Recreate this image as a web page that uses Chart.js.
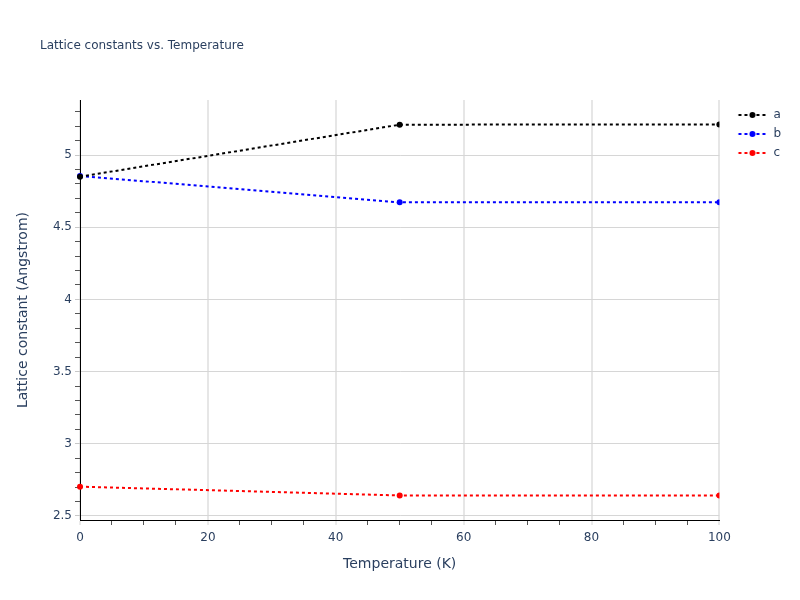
<!DOCTYPE html>
<html>
<head>
<meta charset="utf-8">
<script src="https://cdn.jsdelivr.net/npm/chart.js@4/dist/chart.umd.min.js"></script>
<style>
  body { margin: 0; background: #fff; }
  #wrap { width: 800px; height: 600px; }
</style>
</head>
<body>
<div id="wrap"><canvas id="lattice" width="800" height="600"></canvas></div>
<script>
// values
const temperature = [0, 50, 100];
const latticeA = [4.85, 5.21, 5.212];
const latticeB = [4.855, 4.672, 4.672];
const latticeC = [2.703, 2.642, 2.642];
const seriesNames = ['a', 'b', 'c'];
const seriesColors = ['#000000', '#0000ff', '#ff0000'];
const xTickLabels = [0, 20, 40, 60, 80, 100];
const yTickLabels = [2.5, 3, 3.5, 4, 4.5, 5];

const textColor = '#2a3f5f';
const fontFamily = "'DejaVu Sans', Verdana, sans-serif";
Chart.defaults.font.family = fontFamily;
Chart.defaults.font.size = 12;
Chart.defaults.color = textColor;

const isXMajor = v => xTickLabels.some(t => Math.abs(t - v) < 1e-6);
const isYMajor = v => yTickLabels.some(t => Math.abs(t - v) < 1e-6);

// legend symbol: dotted line with a dot in the middle
function legendSymbol(color) {
  const c = document.createElement('canvas');
  c.width = 42; c.height = 12;
  const g = c.getContext('2d');
  g.strokeStyle = color;
  g.lineWidth = 2;
  g.setLineDash([3, 3]);
  g.beginPath();
  g.moveTo(12.5, 6);
  g.lineTo(40.5, 6);
  g.stroke();
  g.fillStyle = color;
  g.beginPath();
  g.arc(26.5, 6, 3, 0, Math.PI * 2);
  g.fill();
  return c;
}

const plotTitle = {
  id: 'plotTitle',
  afterDraw(chart) {
    const {ctx} = chart;
    ctx.save();
    ctx.font = '12px ' + fontFamily;
    ctx.fillStyle = textColor;
    ctx.textBaseline = 'middle';
    ctx.textAlign = 'left';
    ctx.fillText('Lattice constants vs. Temperature', 40, 46);
    ctx.restore();
  }
};

const makeSet = (i, values) => ({
  label: seriesNames[i],
  data: temperature.map((t, k) => ({x: t, y: values[k]})),
  borderColor: seriesColors[i],
  backgroundColor: seriesColors[i],
  borderWidth: 2,
  borderDash: [3, 3],
  pointRadius: 3,
  pointBorderWidth: 0,
  pointBackgroundColor: seriesColors[i],
  pointHoverRadius: 3,
  tension: 0,
  clip: {left: false, top: false, right: 0, bottom: false}
});

new Chart(document.getElementById('lattice'), {
  type: 'line',
  data: {
    datasets: [makeSet(0, latticeA), makeSet(1, latticeB), makeSet(2, latticeC)]
  },
  options: {
    responsive: false,
    devicePixelRatio: 1,
    animation: false,
    layout: { padding: { top: 100, right: 9, bottom: 0, left: 0 } },
    plugins: {
      tooltip: { enabled: false },
      legend: {
        position: 'right',
        align: 'start',
        title: { display: true, text: ' ', font: { size: 1, lineHeight: 1 }, padding: { top: 1, bottom: 0 } },
        labels: {
          usePointStyle: true,
          pointStyleWidth: 41,
          padding: 7,
          color: textColor,
          font: { size: 12 },
          generateLabels: chart => chart.data.datasets.map((ds, i) => ({
            text: ds.label,
            pointStyle: legendSymbol(ds.borderColor),
            fillStyle: ds.borderColor,
            strokeStyle: ds.borderColor,
            lineWidth: 0,
            fontColor: textColor,
            hidden: false,
            datasetIndex: i
          }))
        }
      }
    },
    scales: {
      x: {
        type: 'linear',
        min: 0,
        max: 100,
        afterFit: s => { s.height = 80; },
        ticks: {
          stepSize: 5,
          autoSkip: false,
          maxRotation: 0,
          padding: 6,
          color: textColor,
          callback: v => isXMajor(v) ? String(v) : ''
        },
        grid: {
          color: c => (c.tick && isXMajor(c.tick.value)) ? '#e6e6e6' : 'rgba(0,0,0,0)',
          lineWidth: c => (c.tick && isXMajor(c.tick.value)) ? 2 : 1,
          tickColor: c => (c.tick && isXMajor(c.tick.value)) ? '#d6d6d6' : '#555',
          tickWidth: 1,
          tickLength: 5
        },
        border: { display: true, color: '#000', width: 1 },
        title: {
          display: true,
          text: 'Temperature (K)',
          color: textColor,
          font: { size: 14 },
          padding: { top: 4, bottom: 27 }
        }
      },
      y: {
        type: 'linear',
        min: 2.472,
        max: 5.381,
        afterFit: s => { s.width = 80; },
        ticks: {
          stepSize: 0.1,
          includeBounds: false,
          autoSkip: false,
          padding: 3,
          color: textColor,
          callback: v => isYMajor(v) ? String(Math.round(v * 10) / 10) : ''
        },
        grid: {
          color: c => (c.tick && isYMajor(c.tick.value)) ? '#d6d6d6' : 'rgba(0,0,0,0)',
          lineWidth: 1,
          tickColor: c => (c.tick && isYMajor(c.tick.value)) ? '#c8c8c8' : '#555',
          tickWidth: 1,
          tickLength: 5
        },
        border: { display: true, color: '#000', width: 1 },
        title: {
          display: true,
          text: 'Lattice constant (Angstrom)',
          color: textColor,
          font: { size: 14 },
          padding: { top: 15, bottom: 4 }
        }
      }
    }
  },
  plugins: [plotTitle]
});
</script>
</body>
</html>
